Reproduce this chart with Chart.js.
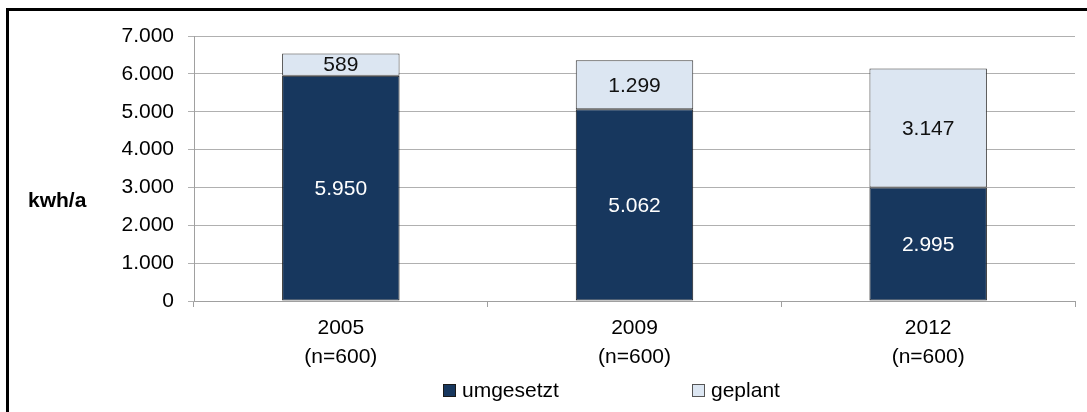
<!DOCTYPE html>
<html>
<head>
<meta charset="utf-8">
<script src="https://cdn.jsdelivr.net/npm/chart.js@4.4.0/dist/chart.umd.min.js"></script>
<style>
html,body{margin:0;padding:0;background:#fff;overflow:hidden;width:1087px;height:412px;}
#ftop{position:absolute;left:6px;top:8px;width:1081px;height:3px;background:#000;}
#fleft{position:absolute;left:6px;top:8px;width:3px;height:404px;background:#000;}
#wrap{position:absolute;left:0;top:0;width:1087px;height:412px;}
#legend{position:absolute;left:0;top:0;width:1087px;height:412px;pointer-events:none;font:21px "Liberation Sans",Arial,sans-serif;color:#000;}
.li{position:absolute;top:378px;height:24px;display:flex;align-items:center;white-space:nowrap;}
.sw{width:11px;height:11px;border:1px solid #333;margin-right:6px;}
</style>
</head>
<body>
<div id="ftop"></div>
<div id="fleft"></div>
<div id="wrap"><canvas id="c" width="1087" height="412"></canvas></div>
<div id="legend"></div>
<script>
// ---- data ----
const categories = [['2005', '(n=600)'], ['2009', '(n=600)'], ['2012', '(n=600)']];
const seriesNames = ['umgesetzt', 'geplant'];
const umgesetzt = [5950, 5062, 2995];
const geplant = [589, 1299, 3147];
const yTickValues = [0, 1000, 2000, 3000, 4000, 5000, 6000, 7000];
const yAxisTitle = 'kwh/a';

const FONT = '"Liberation Sans", Arial, sans-serif';
const fmt = v => String(Math.round(v)).replace(/\B(?=(\d{3})+(?!\d))/g, '.');

const valueLabels = {
  id: 'valueLabels',
  afterDatasetsDraw(chart) {
    const ctx = chart.ctx;
    chart.data.datasets.forEach((ds, i) => {
      const meta = chart.getDatasetMeta(i);
      meta.data.forEach((bar, j) => {
        const p = bar.getProps(['x', 'y', 'base'], true);
        ctx.save();
        ctx.font = '21px ' + FONT;
        ctx.fillStyle = ds.labelColor;
        ctx.textAlign = 'center';
        ctx.textBaseline = 'middle';
        ctx.fillText(fmt(ds.data[j]), p.x, (p.y + p.base) / 2 + 1);
        ctx.restore();
      });
    });
  }
};

const axisTitle = {
  id: 'axisTitle',
  afterDraw(chart) {
    const ctx = chart.ctx;
    ctx.save();
    ctx.font = 'bold 21px ' + FONT;
    ctx.fillStyle = '#000';
    ctx.textAlign = 'left';
    ctx.textBaseline = 'alphabetic';
    ctx.fillText(yAxisTitle, 28, 207);
    ctx.restore();
  }
};

const chart = new Chart(document.getElementById('c'), {
  type: 'bar',
  data: {
    labels: categories,
    datasets: [
      { label: seriesNames[0], data: umgesetzt, backgroundColor: '#17375e', borderColor: '#1a1a1a', borderWidth: 1, borderSkipped: false, labelColor: '#ffffff', barPercentage: 0.4, categoryPercentage: 1 },
      { label: seriesNames[1], data: geplant, backgroundColor: '#dce6f2', borderColor: '#3a3a3a', borderWidth: 1, borderSkipped: false, labelColor: '#111111', barPercentage: 0.4, categoryPercentage: 1 }
    ]
  },
  options: {
    responsive: false,
    animation: false,
    devicePixelRatio: 1,
    layout: { padding: { left: 0, right: 12, top: 36, bottom: 0 } },
    plugins: { legend: { display: false }, tooltip: { enabled: false } },
    scales: {
      x: {
        stacked: true,
        afterFit: s => { s.height = 111; },
        grid: { display: true, drawOnChartArea: false, drawTicks: true, tickLength: 6, color: '#a0a0a0', offset: true },
        border: { display: true, color: '#a0a0a0', width: 1 },
        ticks: { color: '#000', font: { family: FONT, size: 21, lineHeight: 1.38 }, padding: 7, maxRotation: 0 }
      },
      y: {
        stacked: true,
        min: 0, max: 7000,
        afterFit: s => { s.width = 194; },
        afterBuildTicks: s => { s.ticks = yTickValues.map(v => ({ value: v })); },
        grid: { color: '#b0b0b0', drawTicks: true, tickLength: 6 },
        border: { display: true, color: '#a0a0a0', width: 1 },
        ticks: { color: '#000', font: { family: FONT, size: 21 }, padding: 14, callback: v => fmt(v) }
      }
    }
  },
  plugins: [valueLabels, axisTitle]
});

// HTML legend built from Chart.js legend items
const items = Chart.defaults.plugins.legend.labels.generateLabels(chart);
const lefts = [443, 692];
const legendEl = document.getElementById('legend');
items.forEach((it, i) => {
  const d = document.createElement('div');
  d.className = 'li';
  d.style.left = lefts[i] + 'px';
  const sw = document.createElement('span');
  sw.className = 'sw';
  sw.style.background = it.fillStyle;
  sw.style.borderColor = i === 0 ? '#1a1a1a' : '#555';
  const t = document.createElement('span');
  t.textContent = it.text;
  d.appendChild(sw); d.appendChild(t);
  legendEl.appendChild(d);
});
</script>
</body>
</html>
